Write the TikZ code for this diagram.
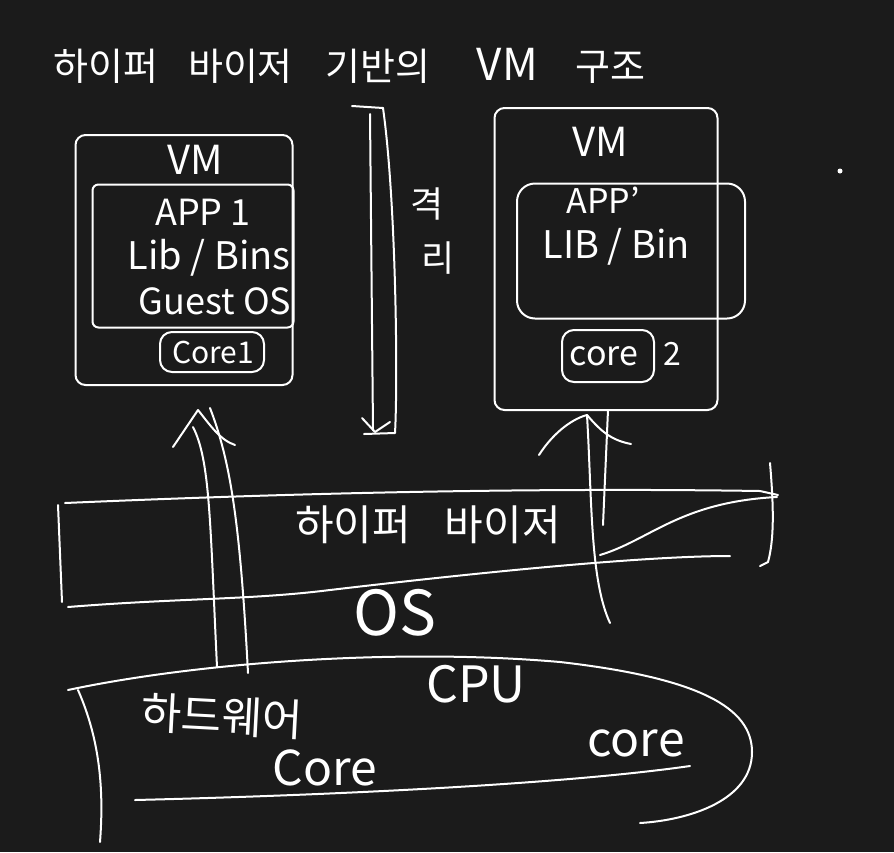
\documentclass[tikz,border=0pt]{standalone}
\usepackage{fontspec}
\setmainfont{Noto Sans CJK KR}
\definecolor{bg}{HTML}{1B1B1B}
\begin{document}
\begin{tikzpicture}[x=1pt,y=-1pt,line cap=round,line join=round,
  ink/.style={draw=white,line width=2pt},
  txt/.style={text=white,inner sep=0pt,font=\fontsize{#1}{#1}\selectfont},
  box/.style={ink,rounded corners=10pt,inner sep=0pt}]
\fill[bg] (0,0) rectangle (894,852);
\useasboundingbox (0,0) rectangle (894,852);

% title
\node[txt=38,anchor=west] (title) at (53,66) {하이퍼\hspace{30pt}바이저\hspace{33pt}기반의\hspace{46pt}{\fontsize{44}{44}\selectfont VM}\hspace{38pt}구조};

% left VM
\node[box,minimum width=217,minimum height=250] (vm1) at (184,260) {};
\node[txt=40] (vm1lbl) at (195,160) {VM};
\node[box,rounded corners=6pt,minimum width=201,minimum height=143] (in1) at (193,256) {};
\node[txt=36] (app1) at (203,212) {APP 1};
\node[txt=38] (lib1) at (209,258) {Lib / Bins};
\node[txt=36] (os1) at (215,301) {Guest OS};
\node[box,rounded corners=12pt,minimum width=104,minimum height=40] (core1) at (212,352) {};
\node[txt=30] (core1t) at (213,352) {Core1};

% isolation arrow
\coordinate (isoTL) at (370,114);
\coordinate (isoTR) at (383,108);
\coordinate (isoB) at (375,432);
\draw[ink] (352,106) -- (isoTR);
\draw[ink] (isoTL) -- (373,430);
\draw[ink] (isoTR) .. controls (396,200) and (398,380) .. (395,433) -- (364,434);
\draw[ink] (362,418) -- (isoB) -- (390,422);
\node[txt=36] (iso1) at (427,204) {격};
\node[txt=36] (iso2) at (438,258) {리};

% right VM
\node[box,minimum width=223,minimum height=302] (vm2) at (606,259) {};
\node[txt=40] (vm2lbl) at (600,142) {VM};
\node[box,rounded corners=18pt,minimum width=228,minimum height=135] (in2) at (631,251) {};
\node[txt=34] (app2) at (603,200) {APP'};
\node[txt=38] (lib2) at (616,247) {LIB / Bin};
\node[box,rounded corners=12pt,minimum width=92,minimum height=52] (core2) at (608,356) {};
\node[txt=34] (core2t) at (604,356) {core};
\node[txt=32] (core2n) at (672,354) {2};

% hypervisor band
\draw[ink] (65,503) .. controls (250,495) and (500,487) .. (760,491) -- (778,495);
\draw[ink] (68,607) .. controls (180,598) and (250,600) .. (330,590) .. controls (500,570) and (650,556) .. (730,556);
\draw[ink] (58,505) -- (62,602);
\draw[ink] (770,463) .. controls (774,510) and (774,540) .. (768,562) -- (760,566);
\draw[ink] (600,555) .. controls (650,540) and (680,502) .. (777,497);
\node[txt=42] (hv) at (428,525) {하이퍼\hspace{34pt}바이저};
\node[txt=62] (os) at (395,613) {OS};

% hardware
\draw[ink] (68,690) .. controls (200,662) and (400,648) .. (560,662) .. controls (700,678) and (752,708) .. (752,752) .. controls (752,800) and (690,820) .. (640,823);
\draw[ink] (135,800) .. controls (300,796) and (550,786) .. (690,766);
\draw[ink] (78,690) .. controls (100,740) and (104,790) .. (100,842);
\node[txt=44,rotate=-3] (hw) at (222,716) {하드웨어};
\node[txt=48] (hwcore1) at (325,768) {Core};
\node[txt=50] (cpu) at (476,684) {CPU};
\node[txt=48] (hwcore2) at (636,743) {core};

% up arrows
\coordinate (la1b) at (217,667);
\coordinate (la1t) at (193,427);
\coordinate (la2b) at (248,673);
\coordinate (la2t) at (210,408);
\coordinate (laTip) at (198,410);
\draw[ink] (la1b) .. controls (210,520) and (210,460) .. (la1t);
\draw[ink] (la2b) .. controls (240,520) and (230,460) .. (la2t);
\draw[ink] (173,447) -- (laTip) .. controls (210,425) and (220,440) .. (235,445);

\coordinate (ra1b) at (610,623);
\coordinate (ra1t) at (587,415);
\coordinate (ra2b) at (603,525);
\coordinate (ra2t) at (608,410);
\draw[ink] (ra1b) .. controls (590,580) and (592,500) .. (ra1t);
\draw[ink] (ra2b) -- (ra2t);
\draw[ink] (539,455) .. controls (555,430) and (575,418) .. (ra1t) .. controls (600,430) and (610,440) .. (631,444);

% stray dot
\fill[white] (840,171) circle (2.5pt);
\end{tikzpicture}
\end{document}
